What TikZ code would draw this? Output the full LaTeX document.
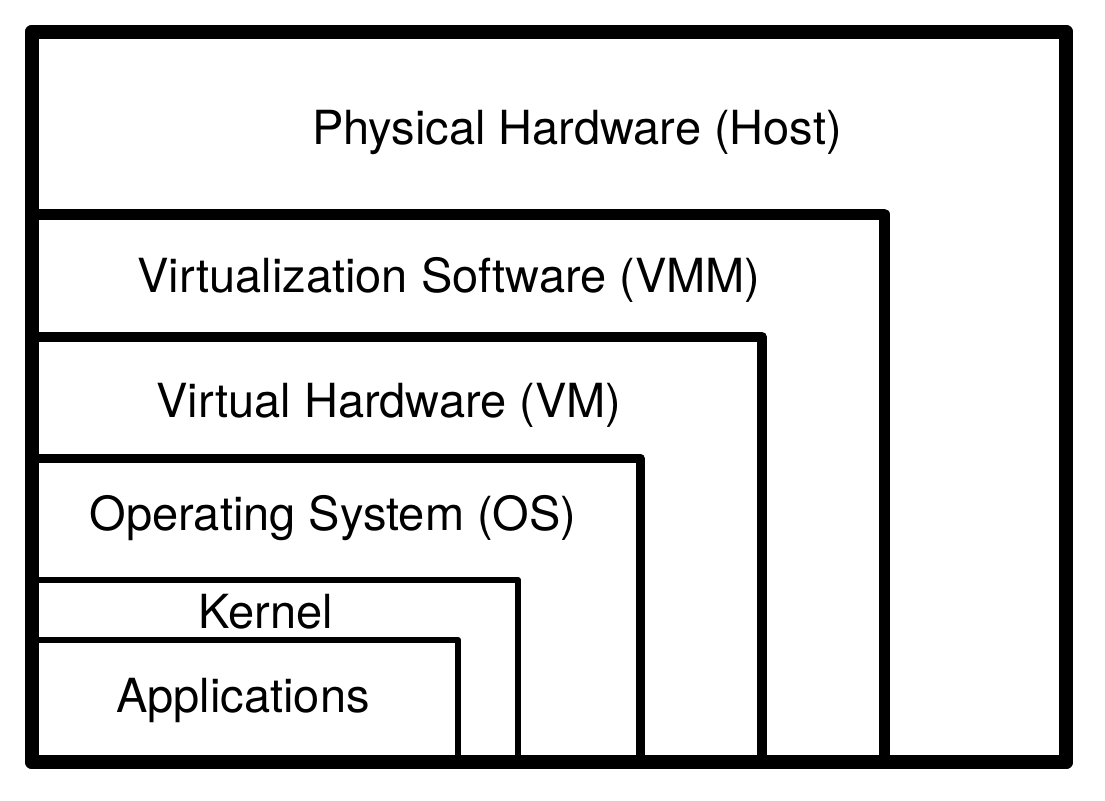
\documentclass[tikz,border=0pt]{standalone}
\usepackage{fontspec}
\setmainfont{TeX Gyre Heros}
\usetikzlibrary{positioning}

\begin{document}
\begin{tikzpicture}[
  x=1pt,y=-1pt,
  line join=round,
  layer/.style={draw=black,fill=white},
  lbl/.style={font=\fontsize{47}{55}\selectfont,anchor=base,inner sep=0pt},
]
\useasboundingbox (0,0) rectangle (1105,800);

% ---- nested layers, outermost first ----
\draw[layer,line width=14pt] (32,32) rectangle (1066,762);
\draw[layer,line width=11pt] (32,214) -| (884,762);
\draw[layer,line width=10pt] (32,337) -| (762,762);
\draw[layer,line width=9pt]  (32,458) -| (640,762);
\draw[layer,line width=6.5pt] (32,580) -| (518,762);
\draw[layer,line width=6.5pt] (32,640) -| (458,762);

% redraw outer frame on top so the inner strokes end inside it
\draw[line width=14pt] (32,32) rectangle (1066,762);

% ---- labels ----
\node[lbl] (host)   at (577,144) {Physical Hardware (Host)};
\node[lbl] (vmm)    at (449,292) {Virtualization Software (VMM)};
\node[lbl] (vm)     at (389,417) {Virtual Hardware (VM)};
\node[lbl] (os)     at (333,530) {Operating System (OS)};
\node[lbl] (kernel) at (266,628) {Kernel};
\node[lbl] (apps)   at (243,712) {Applications};

\end{tikzpicture}
\end{document}
